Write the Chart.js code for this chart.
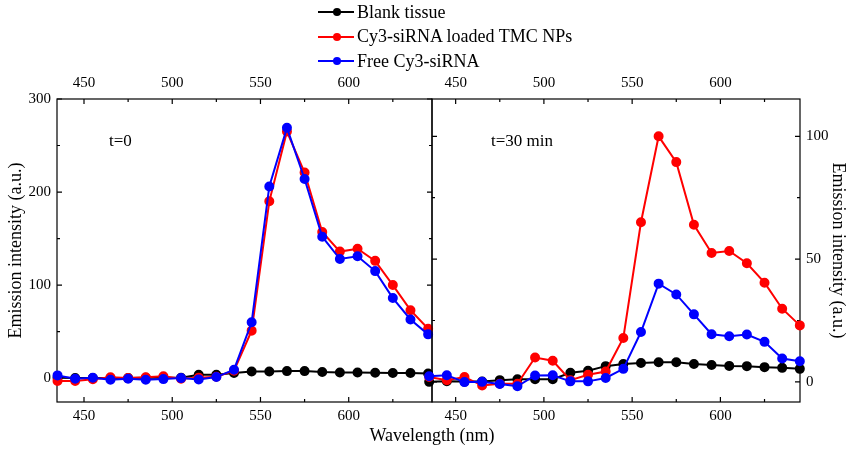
<!DOCTYPE html>
<html>
<head>
<meta charset="utf-8">
<script src="https://cdn.jsdelivr.net/npm/chart.js@4.4.0/dist/chart.umd.min.js"></script>
<style>
  body { margin: 0; background: #fff; overflow: hidden; }
  #wrap { position: relative; width: 846px; height: 449px; font-family: "Liberation Serif", serif; color: #000; }
  #left { position: absolute; left: 0; top: 0; }
  #right { position: absolute; left: 420px; top: 0; }
  #legend { position: absolute; left: 318px; top: 0px; font-size: 18px; }
  .row { height: 24.5px; display: flex; align-items: center; }
  .ic { display: inline-block; width: 36px; height: 2px; position: relative; margin-right: 3px; }
  .ic::after { content: ''; position: absolute; left: 14.5px; top: -3px; width: 8px; height: 8px; border-radius: 50%; background: inherit; }
  #xtitle { position: absolute; left: 0; top: 425px; width: 864px; text-align: center; font-size: 18px; }
</style>
</head>
<body>
<div id="wrap">
  <canvas id="left" width="440" height="449"></canvas>
  <canvas id="right" width="426" height="449"></canvas>
  <div id="legend"></div>
  <div id="xtitle">Wavelength (nm)</div>
</div>
<script>
// wavelength (nm) of each measured point
const wavelengths = [435, 445, 455, 465, 475, 485, 495, 505, 515, 525, 535, 545, 555, 565, 575, 585, 595, 605, 615, 625, 635, 645];

const seriesNames = ['Blank tissue', 'Cy3-siRNA loaded TMC NPs', 'Free Cy3-siRNA'];
const seriesColors = ['#000000', '#ff0000', '#0000ff'];

// t = 0
const blank0 = [0.5, 0, 0, 0, 0, 0.3, 0.3, 0.3, 3.6, 3.6, 5.4, 7.1, 7.1, 7.5, 7.5, 6.5, 6, 6, 5.7, 5.4, 5.4, 5];
const loaded0 = [-3.2, -3, -1.3, 0.8, 0, 0.8, 1.9, -0.7, 0.5, 1.5, 8, 51, 190, 265, 221, 157, 136, 139, 126, 100, 73, 53];
const free0 = [2.9, -0.7, 0.4, -1.8, -0.7, -1.8, -1.1, 0, -1.4, 1.1, 9, 60, 206, 269, 214, 152, 128, 131, 115, 86, 63, 47];

// t = 30 min
const blank30 = [0, 0.3, 0.1, 0.1, 0.7, 1.1, 1.1, 1.1, 3.7, 4.5, 6.4, 7.3, 7.7, 8, 8, 7.3, 6.9, 6.5, 6.4, 6, 5.7, 5.3];
const loaded30 = [2, 0.7, 2, -1.5, -0.8, -0.8, 9.9, 8.6, 0.7, 2.9, 4.2, 17.9, 65, 100, 89.5, 64, 52.5, 53.3, 48.3, 40.4, 29.8, 23];
const free30 = [2.3, 2.7, -0.1, 0, -0.9, -1.8, 2.6, 2.7, 0.2, 0.2, 1.6, 5.3, 20.3, 40, 35.6, 27.5, 19.4, 18.6, 19.3, 16.3, 9.5, 8.4];

// tick labels
const xTicks = [450, 500, 550, 600];
const yTicks0 = [0, 100, 200, 300];
const yTicks30 = [0, 50, 100];

Chart.defaults.font.family = '"Liberation Serif", serif';
Chart.defaults.color = '#000';

// legend
const legend = document.getElementById('legend');
seriesNames.forEach((n, i) => {
  const row = document.createElement('div');
  row.className = 'row';
  row.innerHTML = `<span class="ic" style="background:${seriesColors[i]}"></span>${n}`;
  legend.appendChild(row);
});

function serie(values, i) {
  return {
    label: seriesNames[i],
    data: wavelengths.map((w, k) => ({ x: w, y: values[k] })),
    borderColor: seriesColors[i],
    backgroundColor: seriesColors[i],
    borderWidth: 2,
    pointRadius: 4,
    pointHoverRadius: 4,
    tension: 0,
    clip: false
  };
}

function minors(majors, step, min, max) {
  const out = [];
  majors.forEach(v => {
    if (v - step / 2 >= min && !out.includes(v - step / 2)) out.push(v - step / 2);
    if (v + step / 2 <= max) out.push(v + step / 2);
  });
  return out;
}

// frame with inward ticks + panel label
const framePlugin = {
  id: 'frame',
  beforeDatasetsDraw(chart, args, o) {
    const { ctx, chartArea: a, scales } = chart;
    ctx.save();
    ctx.strokeStyle = '#000';
    ctx.lineWidth = 1.2;
    ctx.strokeRect(a.left, a.top, a.right - a.left, a.bottom - a.top);
    const xs = scales.x, ys = scales.y;
    const tick = (v, len, horiz) => {
      ctx.beginPath();
      if (horiz) {
        const p = xs.getPixelForValue(v);
        ctx.moveTo(p, a.top); ctx.lineTo(p, a.top + len);
        ctx.moveTo(p, a.bottom); ctx.lineTo(p, a.bottom - len);
      } else {
        const p = ys.getPixelForValue(v);
        ctx.moveTo(a.left, p); ctx.lineTo(a.left + len, p);
        ctx.moveTo(a.right, p); ctx.lineTo(a.right - len, p);
      }
      ctx.stroke();
    };
    xTicks.forEach(v => tick(v, 5, true));
    minors(xTicks, 50, xs.min, xs.max).forEach(v => tick(v, 3, true));
    o.yMajors.forEach(v => tick(v, 5, false));
    minors(o.yMajors, o.yStep, ys.min, ys.max).forEach(v => tick(v, 3, false));
    ctx.fillStyle = '#000';
    ctx.font = '17px "Liberation Serif", serif';
    ctx.textBaseline = 'middle';
    ctx.fillText(o.label, a.left + o.labelDx, 142);
    ctx.restore();
  }
};

function xScale(pos, min, max, h) {
  return {
    type: 'linear', position: pos, min: min, max: max,
    grid: { display: false, drawTicks: false }, border: { display: false },
    ticks: { font: { size: 15 }, padding: pos === 'top' ? 7 : 5, maxRotation: 0 },
    afterBuildTicks: s => { s.ticks = xTicks.map(v => ({ value: v })); },
    afterFit: s => { s.height = h; }
  };
}

function yScale(pos, min, max, majors, w, titlePad) {
  return {
    position: pos, min: min, max: max,
    grid: { display: false, drawTicks: false }, border: { display: false },
    ticks: { font: { size: 15 }, padding: 6 },
    afterBuildTicks: s => { s.ticks = majors.map(v => ({ value: v })); },
    afterFit: s => { s.width = w; },
    title: { display: true, text: 'Emission intensity (a.u.)', font: { size: 18 }, padding: { top: titlePad, bottom: 0 } }
  };
}

new Chart(document.getElementById('left'), {
  type: 'line',
  data: { datasets: [serie(free0, 2), serie(loaded0, 1), serie(blank0, 0)] },
  options: {
    responsive: false, animation: false,
    layout: { padding: { right: 8, top: 0, bottom: 0, left: 0 } },
    plugins: { legend: { display: false }, tooltip: { enabled: false },
      frame: { yMajors: yTicks0, yStep: 100, label: 't=0', labelDx: 52 } },
    scales: {
      x: xScale('bottom', 434.7, 647.2, 47),
      xTop: xScale('top', 434.7, 647.2, 99),
      y: yScale('left', -25.7, 300, yTicks0, 57, 5)
    }
  },
  plugins: [framePlugin]
});

new Chart(document.getElementById('right'), {
  type: 'line',
  data: { datasets: [serie(free30, 2), serie(loaded30, 1), serie(blank30, 0)] },
  options: {
    responsive: false, animation: false,
    layout: { padding: { left: 12, right: 0, top: 0, bottom: 0 } },
    plugins: { legend: { display: false }, tooltip: { enabled: false },
      frame: { yMajors: yTicks30, yStep: 50, label: 't=30 min', labelDx: 59 } },
    scales: {
      x: xScale('bottom', 436.6, 645.1, 47),
      xTop: xScale('top', 436.6, 645.1, 99),
      y: yScale('right', -8.2, 115.2, yTicks30, 46, -3)
    }
  },
  plugins: [framePlugin]
});
</script>
</body>
</html>
